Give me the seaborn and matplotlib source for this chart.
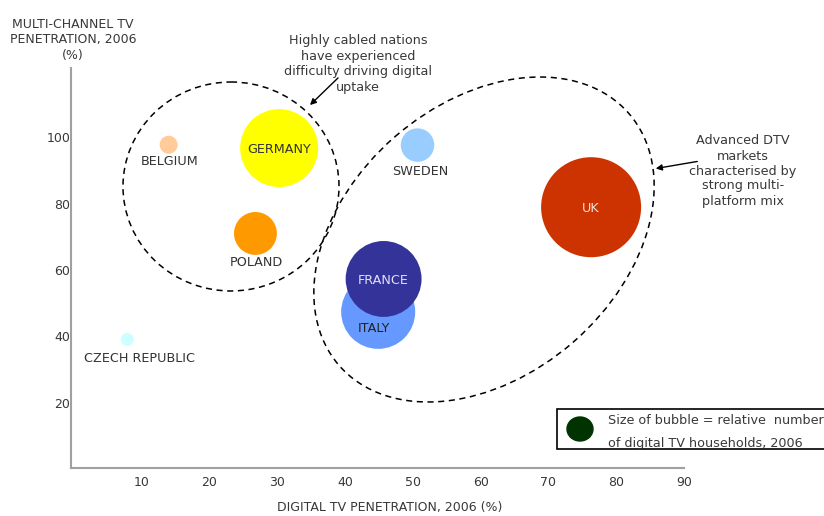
import matplotlib
matplotlib.use("Agg")
import matplotlib.pyplot as plt
from matplotlib.patches import Ellipse, Rectangle
from matplotlib.transforms import Affine2D
import seaborn as sns
import pandas as pd

# ---- data ----
countries = ["CZECH REPUBLIC", "BELGIUM", "POLAND", "GERMANY", "SWEDEN", "ITALY", "FRANCE", "UK"]
digital_tv_pen = [7.9, 14.0, 26.8, 30.3, 50.7, 44.9, 45.7, 76.3]
multichannel_pen = [39.1, 97.7, 71.0, 96.7, 97.6, 47.4, 57.3, 78.9]
digital_households = [0.42, 0.81, 4.6, 15.2, 2.8, 13.7, 14.4, 25.0]  # relative
colors = ["#CCFFFF", "#FFCC99", "#FF9900", "#FFFF00", "#99CCFF", "#6699FF", "#333399", "#CC3300"]
label_colors = ["#333333", "#333333", "#333333", "#333333", "#333333", "#222222", "#E0E0F5", "#F5E0D8"]
x_ticks = [10, 20, 30, 40, 50, 60, 70, 80, 90]
y_ticks = [20, 40, 60, 80, 100]

df = pd.DataFrame({"country": countries, "x": digital_tv_pen,
                   "y": multichannel_pen, "hh": digital_households})

sns.set_style("white")
plt.rcParams["font.family"] = ["DejaVu Sans"]
TXT = "#383838"

fig = plt.figure(figsize=(8.24, 5.16), dpi=100)
ax = fig.add_axes([71 / 824, 48 / 516, 613 / 824, 400 / 516])

size_scale = 207.4
sizes = {c: h * size_scale for c, h in zip(countries, digital_households)}
palette = dict(zip(countries, colors))
sns.scatterplot(data=df, x="x", y="y", hue="country", size="country",
                palette=palette, sizes=sizes, legend=False, linewidth=0,
                alpha=1, ax=ax, zorder=3)

ax.set_xlim(-0.4, 89.7)
ax.set_ylim(0.4, 120.8)
ax.set_xticks(x_ticks)
ax.set_yticks(y_ticks)
ax.tick_params(length=0, labelsize=9, colors=TXT)
ax.tick_params(axis="x", pad=6)
ax.tick_params(axis="y", pad=0.5)
ax.set_xlabel("")
ax.set_ylabel("")
for s in ["top", "right"]:
    ax.spines[s].set_visible(False)
for s in ["left", "bottom"]:
    ax.spines[s].set_color("#A0A0A0")
    ax.spines[s].set_linewidth(1.5)

# label offsets (in points) relative to bubble centres
offsets = {"CZECH REPUBLIC": (9, -14), "BELGIUM": (1, -12), "POLAND": (1, -21),
           "GERMANY": (0, -1), "SWEDEN": (2, -19), "ITALY": (-3, -12),
           "FRANCE": (0, -1), "UK": (0, -1)}
for c, x, y, lc in zip(countries, digital_tv_pen, multichannel_pen, label_colors):
    dx, dy = offsets[c]
    ax.annotate(c, (x, y), xytext=(dx, dy), textcoords="offset points",
                ha="center", va="center", fontsize=9.2, color=lc, zorder=5)

# pixel transform (origin top-left)
pix = Affine2D().scale(1 / 824, -1 / 516).translate(0, 1) + fig.transFigure

e1 = Ellipse((231, 186.5), 216, 209, angle=0, transform=pix, fill=False,
             ls=(0, (4, 3)), lw=1.1, color="black", zorder=4)
e2 = Ellipse((484, 239.5), 384, 272, angle=-41, transform=pix, fill=False,
             ls=(0, (4, 3)), lw=1.1, color="black", zorder=4)
fig.add_artist(e1)
fig.add_artist(e2)

# annotations
fig.text(358, 64, "Highly cabled nations\nhave experienced\ndifficulty driving digital\nuptake",
         transform=pix, ha="center", va="center", fontsize=9.2, color=TXT,
         linespacing=1.25)
ax.annotate("", xy=(308, 107), xycoords=pix, xytext=(340, 76), textcoords=pix,
            arrowprops=dict(arrowstyle="-|>", color="black", lw=1, mutation_scale=9))

fig.text(743, 171, "Advanced DTV\nmarkets\ncharacterised by\nstrong multi-\nplatform mix",
         transform=pix, ha="center", va="center", fontsize=9.2, color=TXT,
         linespacing=1.2)
ax.annotate("", xy=(653, 169), xycoords=pix, xytext=(700, 161), textcoords=pix,
            arrowprops=dict(arrowstyle="-|>", color="black", lw=1, mutation_scale=9))

# axis titles
fig.text(73, 40, "MULTI-CHANNEL TV\nPENETRATION, 2006\n(%)", transform=pix,
         ha="center", va="center", fontsize=9, color=TXT, linespacing=1.25)
fig.text(390, 508, "DIGITAL TV PENETRATION, 2006 (%)", transform=pix,
         ha="center", va="center", fontsize=9, color=TXT)

# bubble size key
fig.add_artist(Rectangle((557, 409), 300, 40, transform=pix, fill=True,
                         facecolor="white", edgecolor="black", lw=1.2, zorder=6))
fig.add_artist(Ellipse((580, 429), 26, 24, transform=pix, color="#003300", zorder=7))
fig.text(608, 421, "Size of bubble = relative  number", transform=pix,
         ha="left", va="center", fontsize=9.2, color=TXT, zorder=8)
fig.text(608, 443, "of digital TV households, 2006", transform=pix,
         ha="left", va="center", fontsize=9.2, color=TXT, zorder=8)

fig.savefig("out.png", dpi=100)
